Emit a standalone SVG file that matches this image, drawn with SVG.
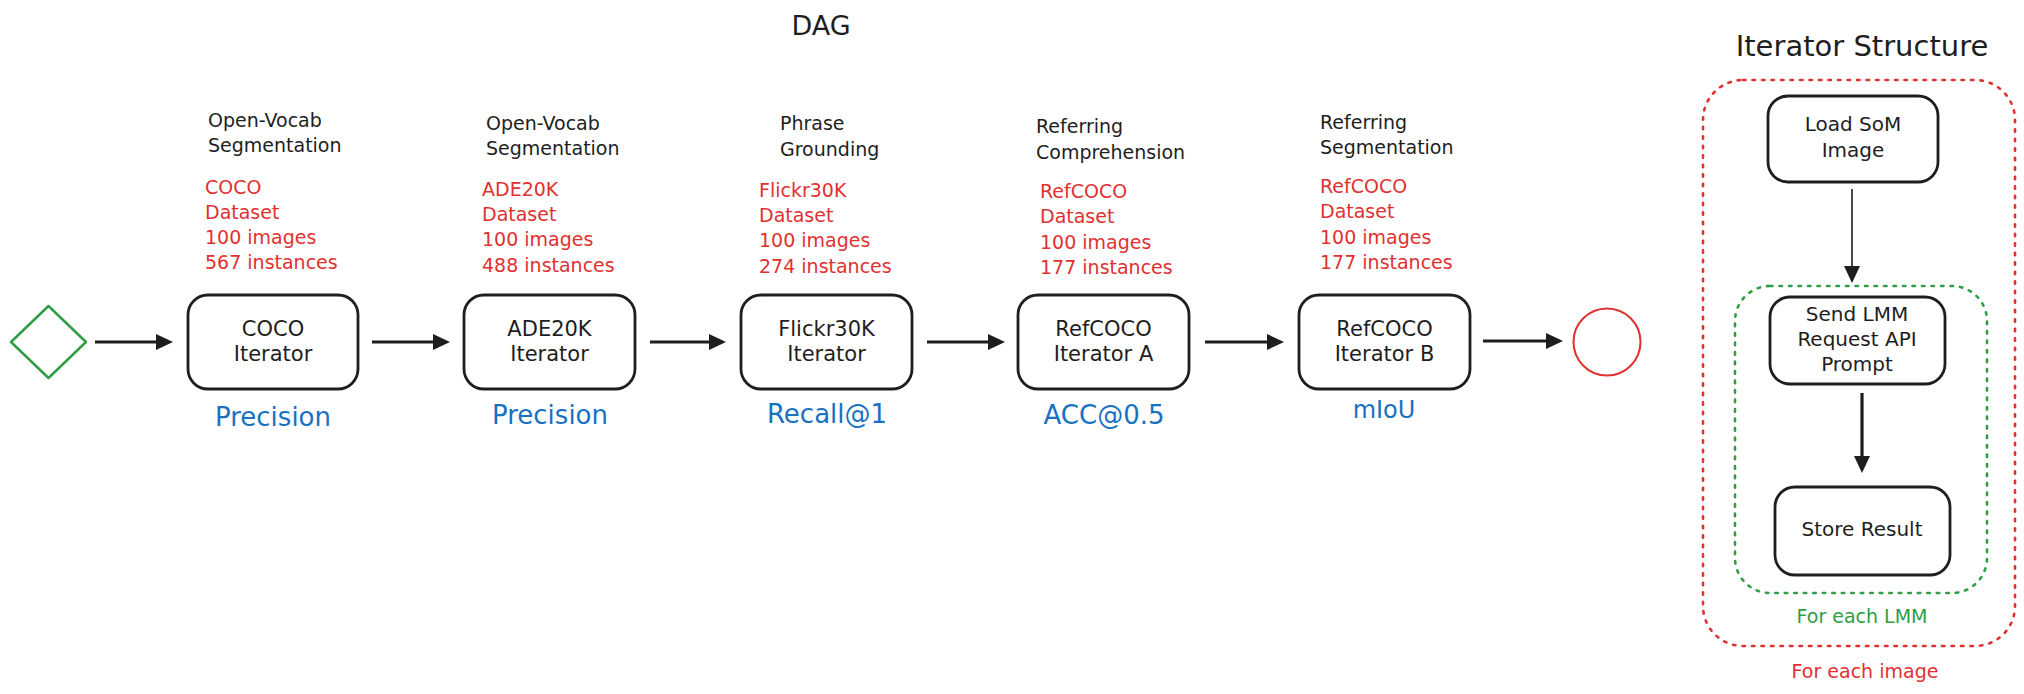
<svg xmlns="http://www.w3.org/2000/svg" width="2024" height="694" viewBox="0 0 2024 694">
<style>
text{font-family:"DejaVu Sans","Liberation Sans",sans-serif;fill:#1e1e1e}
.title{font-size:27px}
.lbl{font-size:19px}
.red{font-size:19px;fill:#e03131}
.box{fill:#fff;stroke:#1e1e1e;stroke-width:2.8}
.bt{font-size:21px;text-anchor:middle}
.met{font-size:26px;fill:#1971c2;text-anchor:middle}
.conn{stroke:#1e1e1e;stroke-width:3.2;fill:none;marker-end:url(#ah)}
</style>
<defs>
<marker id="ah" viewBox="0 -8 17 16" refX="0" refY="0" markerWidth="17" markerHeight="16" markerUnits="userSpaceOnUse" orient="auto">
<path d="M0,-8 L17,0 L0,8 Z" fill="#1e1e1e"/>
</marker>
</defs>
<rect width="2024" height="694" fill="#fff"/>
<text class="title" x="821" y="35" text-anchor="middle">DAG</text>
<text class="title" x="1862" y="56" text-anchor="middle" style="font-size:29px">Iterator Structure</text>

<g id="start"><polygon points="48.5,306 86,342 48.5,378 11,342" fill="none" stroke="#2f9e44" stroke-width="2.5" stroke-linejoin="round"/></g>

<g id="coco">
<text class="lbl" x="208" y="127">Open-Vocab</text><text class="lbl" x="208" y="152">Segmentation</text>
<text class="red" x="205" y="194">COCO</text><text class="red" x="205" y="219">Dataset</text><text class="red" x="205" y="244">100 images</text><text class="red" x="205" y="269">567 instances</text>
<rect class="box" x="188" y="295" width="170" height="94" rx="20"/>
<text class="bt" x="273" y="335.5">COCO</text><text class="bt" x="273" y="360.5">Iterator</text>
<text class="met" x="273" y="426">Precision</text>
</g>

<g id="ade">
<text class="lbl" x="486" y="130">Open-Vocab</text><text class="lbl" x="486" y="155">Segmentation</text>
<text class="red" x="482" y="196">ADE20K</text><text class="red" x="482" y="221">Dataset</text><text class="red" x="482" y="246">100 images</text><text class="red" x="482" y="272">488 instances</text>
<rect class="box" x="464" y="295" width="171" height="94" rx="20"/>
<text class="bt" x="549.5" y="335.5">ADE20K</text><text class="bt" x="549.5" y="360.5">Iterator</text>
<text class="met" x="550" y="424">Precision</text>
</g>

<g id="flickr">
<text class="lbl" x="780" y="130">Phrase</text><text class="lbl" x="780" y="156">Grounding</text>
<text class="red" x="759" y="197">Flickr30K</text><text class="red" x="759" y="222">Dataset</text><text class="red" x="759" y="247">100 images</text><text class="red" x="759" y="273">274 instances</text>
<rect class="box" x="741" y="295" width="171" height="94" rx="20"/>
<text class="bt" x="826.5" y="335.5">Flickr30K</text><text class="bt" x="826.5" y="360.5">Iterator</text>
<text class="met" x="827" y="423">Recall@1</text>
</g>

<g id="refa">
<text class="lbl" x="1036" y="133">Referring</text><text class="lbl" x="1036" y="159">Comprehension</text>
<text class="red" x="1040" y="198">RefCOCO</text><text class="red" x="1040" y="223">Dataset</text><text class="red" x="1040" y="249">100 images</text><text class="red" x="1040" y="274">177 instances</text>
<rect class="box" x="1018" y="295" width="171" height="94" rx="20"/>
<text class="bt" x="1103.5" y="335.5">RefCOCO</text><text class="bt" x="1103.5" y="360.5">Iterator A</text>
<text class="met" x="1104" y="424">ACC@0.5</text>
</g>

<g id="refb">
<text class="lbl" x="1320" y="129">Referring</text><text class="lbl" x="1320" y="154">Segmentation</text>
<text class="red" x="1320" y="193">RefCOCO</text><text class="red" x="1320" y="218">Dataset</text><text class="red" x="1320" y="244">100 images</text><text class="red" x="1320" y="269">177 instances</text>
<rect class="box" x="1299" y="295" width="171" height="94" rx="20"/>
<text class="bt" x="1384.5" y="335.5">RefCOCO</text><text class="bt" x="1384.5" y="360.5">Iterator B</text>
<text class="met" x="1384" y="418" style="font-size:24px">mIoU</text>
</g>

<g id="end"><circle cx="1607" cy="342" r="33.5" fill="none" stroke="#e03131" stroke-width="2"/></g>

<g id="loop-image">
<rect x="1703" y="80" width="312" height="566" rx="40" fill="none" stroke="#e03131" stroke-width="2.6" stroke-dasharray="2.5 7" stroke-linecap="round"/>
<text x="1865" y="678" text-anchor="middle" style="font-size:19px;fill:#e03131">For each image</text>
</g>
<g id="loop-lmm">
<rect x="1735" y="286" width="252" height="307" rx="35" fill="none" stroke="#2f9e44" stroke-width="2.6" stroke-dasharray="2.5 7" stroke-linecap="round"/>
<text x="1862" y="623" text-anchor="middle" style="font-size:19px;fill:#2f9e44">For each LMM</text>
</g>
<g id="load">
<rect class="box" x="1768" y="96" width="170" height="86" rx="20"/>
<text class="bt" x="1853" y="131" style="font-size:20px">Load SoM</text><text class="bt" x="1853" y="157" style="font-size:20px">Image</text>
</g>
<g id="send">
<rect class="box" x="1770" y="297" width="175" height="87" rx="20"/>
<text class="bt" x="1857" y="321" style="font-size:20px">Send LMM</text><text class="bt" x="1857" y="346" style="font-size:20px">Request API</text><text class="bt" x="1857" y="371" style="font-size:20px">Prompt</text>
</g>
<g id="store">
<rect class="box" x="1775" y="487" width="175" height="88" rx="20"/>
<text class="bt" x="1862" y="536" style="font-size:20px">Store Result</text>
</g>

<g id="connectors">
<line class="conn" x1="95" y1="342" x2="156" y2="342"/>
<line class="conn" x1="372" y1="342" x2="433" y2="342"/>
<line class="conn" x1="650" y1="342" x2="709" y2="342"/>
<line class="conn" x1="927" y1="342" x2="988" y2="342"/>
<line class="conn" x1="1205" y1="342" x2="1267" y2="342"/>
<line class="conn" x1="1483" y1="341" x2="1546" y2="341"/>
<line class="conn" x1="1852" y1="189" x2="1852" y2="266" style="stroke-width:1.6"/>
<line class="conn" x1="1862" y1="393" x2="1862" y2="456"/>
</g>
</svg>
